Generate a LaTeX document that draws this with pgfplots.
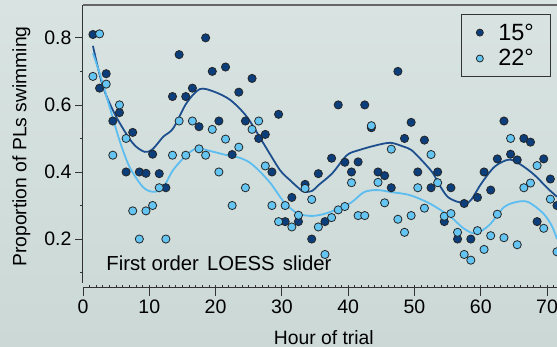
\documentclass[border=0pt]{standalone}
\usepackage{pgfplots}
\pgfplotsset{compat=1.18}
\usepackage{fontspec}
\setmainfont{Liberation Sans}
\definecolor{bgtop}{HTML}{D9E4E2}
\definecolor{bgbot}{HTML}{CBD8D6}
\definecolor{darkpt}{HTML}{0B3E7A}
\definecolor{lightpt}{HTML}{64C5F3}
\definecolor{darkln}{HTML}{1D4F8E}
\definecolor{lightln}{HTML}{5CBDF0}
\begin{document}
\begin{tikzpicture}[x=1pt,y=1pt]
\shade[top color=bgtop, bottom color=bgbot] (0,0) rectangle (557,347);
\useasboundingbox (0,0) rectangle (557,347);
\begin{axis}[
  at={(83pt,59pt)}, anchor=south west,
  scale only axis, width=474pt, height=283pt,
  xmin=0, xmax=71.5, ymin=0.054, ymax=0.898,
  clip=false,
  axis x line*=bottom, axis y line*=left,
  axis line style={line width=1pt, color=black!80, -},
  y axis line style={shorten <=5pt},
  xtick={0,10,...,70}, ytick={0.2,0.4,0.6,0.8},
  minor xtick={1,...,71}, minor ytick={0.1,0.3,0.5,0.7},
  tick align=outside,
  major tick length=8pt, minor tick length=3pt,
  tick style={line width=0.8pt, color=black!80},
  every minor x tick/.append style={yshift=3pt},
  ticklabel style={font=\fontsize{19.5}{21}\selectfont},
  /pgf/number format/assume math mode=true,
  yticklabel style={/pgf/number format/.cd, fixed, fixed zerofill, precision=1},
  xlabel={Hour of trial}, ylabel={Proportion of PLs swimming},
  label style={font=\fontsize{19.3}{21}\selectfont},
  xlabel style={at={(axis description cs:0.508,-0.198)}, anchor=base},
  ylabel style={at={(axis description cs:-0.1192,0.5)}, anchor=base},
  legend style={at={(axis description cs:0.9873,0.968)}, anchor=north east,
    draw=black!80, line width=1.2pt, fill=none,
    font=\fontsize{23.5}{25}\selectfont, row sep=4pt,
    inner xsep=14.5pt, inner ysep=7pt, nodes={inner sep=2pt},
    /tikz/every odd column/.append style={column sep=13pt}},
  legend image code/.code={\draw[#1, mark size=3.5pt] plot coordinates {(0pt,0pt)};},
  legend cell align=left,
]
\addplot[only marks, mark=*, mark size=4.1pt,
  mark options={fill=darkpt, draw=black!85, line width=0.8pt}] coordinates {
(1.5,0.81)(2.5,0.65)(3.5,0.693)(4.5,0.552)(5.5,0.577)(6.5,0.40)(7.5,0.518)(8.5,0.40)(9.5,0.396)(10.5,0.453)
(11.5,0.395)(12.5,0.353)(13.5,0.625)(14.5,0.75)(15.5,0.625)(16.5,0.65)(17.5,0.535)(18.5,0.80)(19.5,0.70)(20.5,0.552)
(21.5,0.713)(22.5,0.452)(23.5,0.638)(24.5,0.552)(25.5,0.679)(26.5,0.50)(27.5,0.512)(28.5,0.40)(29.5,0.572)(30.5,0.252)
(31.5,0.324)(32.5,0.252)(33.5,0.363)(34.5,0.20)(35.5,0.395)(36.5,0.252)(37.5,0.441)(38.5,0.60)(39.5,0.429)(40.5,0.40)
(41.5,0.43)(42.5,0.60)(43.5,0.532)(44.5,0.40)(45.5,0.389)(46.5,0.353)(47.5,0.70)(48.5,0.50)(49.5,0.548)(50.5,0.40)
(51.5,0.495)(52.5,0.353)(53.5,0.40)(54.5,0.252)(55.5,0.353)(56.5,0.20)(57.5,0.306)(58.5,0.20)(59.5,0.324)(60.5,0.40)
(61.5,0.346)(62.5,0.439)(63.5,0.552)(64.5,0.453)(65.5,0.436)(66.5,0.50)(67.5,0.489)(68.5,0.252)(69.5,0.439)(70.5,0.379)
(71.5,0.30)
};
\addlegendentry{15°}
\addplot[only marks, mark=*, mark size=4.1pt,
  mark options={fill=lightpt, draw=black!85, line width=0.8pt}] coordinates {
(1.5,0.685)(2.5,0.812)(3.5,0.662)(4.5,0.45)(5.5,0.60)(6.5,0.50)(7.5,0.284)(8.5,0.20)(9.5,0.284)(10.5,0.30)
(11.5,0.353)(12.5,0.20)(13.5,0.45)(14.5,0.552)(15.5,0.45)(16.5,0.552)(17.5,0.469)(18.5,0.45)(19.5,0.527)(20.5,0.40)
(21.5,0.498)(22.5,0.30)(23.5,0.474)(24.5,0.353)(25.5,0.527)(26.5,0.552)(27.5,0.418)(28.5,0.30)(29.5,0.252)(30.5,0.30)
(31.5,0.236)(32.5,0.271)(33.5,0.351)(34.5,0.318)(35.5,0.236)(36.5,0.154)(37.5,0.264)(38.5,0.287)(39.5,0.297)(40.5,0.368)
(41.5,0.27)(42.5,0.27)(43.5,0.538)(44.5,0.369)(45.5,0.308)(46.5,0.468)(47.5,0.259)(48.5,0.22)(49.5,0.27)(50.5,0.353)
(51.5,0.292)(52.5,0.452)(53.5,0.368)(54.5,0.268)(55.5,0.276)(56.5,0.22)(57.5,0.154)(58.5,0.137)(59.5,0.225)(60.5,0.169)
(61.5,0.21)(62.5,0.274)(63.5,0.204)(64.5,0.50)(65.5,0.183)(66.5,0.353)(67.5,0.367)(68.5,0.419)(69.5,0.232)(70.5,0.319)
(71.5,0.162)
};
\addlegendentry{22°}
\addplot[smooth, darkln, line width=1.8pt, forget plot] coordinates {
(1.5,0.776)(3,0.655)(5,0.565)(7.5,0.486)(9.3,0.46)(10.5,0.468)(12.1,0.505)(13.6,0.53)(15.6,0.605)(17.6,0.647)
(19.7,0.64)(22.2,0.615)(24.7,0.565)(27.2,0.486)(29.7,0.406)(31.2,0.376)(32.3,0.356)(33.3,0.341)(34.6,0.344)(35.6,0.362)
(37.6,0.396)(39.8,0.45)(41.6,0.465)(44.3,0.48)(46.4,0.487)(48.3,0.476)(49.5,0.466)(50.8,0.441)(51.6,0.424)(52.8,0.396)
(53.8,0.36)(55,0.326)(56.5,0.311)(57.8,0.308)(58.6,0.318)(60.1,0.366)(62.1,0.416)(64.3,0.437)(66.1,0.421)(68.1,0.391)
(70.1,0.351)(71.5,0.326)
};
\addplot[smooth, lightln, line width=1.8pt, forget plot] coordinates {
(1.5,0.754)(2.5,0.695)(4,0.595)(5.5,0.495)(7,0.416)(9,0.356)(10.5,0.341)(12,0.351)(13.6,0.406)(15.6,0.45)
(17.2,0.47)(19.7,0.46)(21.7,0.45)(23.5,0.443)(25,0.43)(26.5,0.405)(28.3,0.366)(30.3,0.311)(32.3,0.277)(34.3,0.269)
(36,0.273)(37.9,0.285)(40.4,0.308)(42.4,0.34)(44.4,0.346)(46.5,0.34)(49.3,0.331)(52.3,0.306)(55.4,0.267)(57.4,0.232)
(59.2,0.217)(61.3,0.242)(63.5,0.295)(65.5,0.311)(67.2,0.31)(69.4,0.277)(70.7,0.24)(71.5,0.20)
};
\draw[line width=1.6pt, black!60] (axis description cs:0,1) -- (axis description cs:1.02,1);
\node[anchor=base west, font=\fontsize{20.3}{22}\selectfont] at (axis cs:3.0,0.1075) {First order\hspace{2.5pt} LOESS\hspace{2.5pt} slider};
\end{axis}
\end{tikzpicture}
\end{document}
